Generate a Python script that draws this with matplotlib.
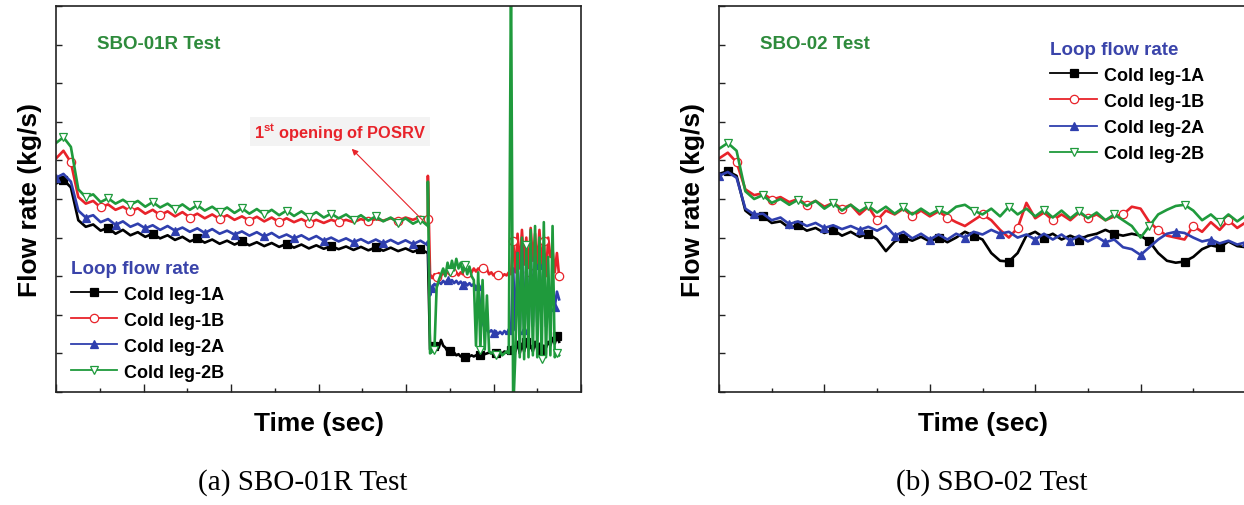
import numpy as np
import matplotlib
matplotlib.use("Agg")
import matplotlib.pyplot as plt
from matplotlib.lines import Line2D
from matplotlib.ticker import MultipleLocator

plt.rcParams['font.family'] = ['Liberation Sans', 'DejaVu Sans']
plt.rcParams['mathtext.fontset'] = 'custom'
plt.rcParams['mathtext.rm'] = 'Liberation Sans'
plt.rcParams['mathtext.bf'] = 'Liberation Sans:bold'

# colours
C_1A = '#000000'
C_1B = '#e8232a'
C_2A = '#2f3fae'
C_2B = '#1f9a3c'
C_TITLE = '#2e8b3c'
C_LEG = '#3a44aa'

series_names = ["Cold leg-1A", "Cold leg-1B", "Cold leg-2A", "Cold leg-2B"]

# ---- (a) SBO-01R : before POSRV opening (t = 0 .. 8.5)
t_a1 = np.linspace(0, 8.5, 51)
a1_1A = [5.4, 5.5, 5.3, 4.45, 4.28, 4.34, 4.18, 4.26, 4.1, 4.2, 4.06,
         4.14, 4.02, 4.1, 3.98, 4.06, 3.94, 4.02, 3.9, 3.98, 3.87,
         3.95, 3.84, 3.92, 3.82, 3.9, 3.8, 3.88, 3.78, 3.86, 3.76,
         3.84, 3.74, 3.82, 3.72, 3.8, 3.71, 3.78, 3.7, 3.77, 3.68,
         3.76, 3.67, 3.75, 3.66, 3.74, 3.65, 3.72, 3.63, 3.7, 3.6]
a1_1B = [6.05, 6.25, 5.95, 5.05, 4.88, 4.95, 4.78, 4.86, 4.72, 4.8, 4.68,
         4.76, 4.62, 4.72, 4.58, 4.68, 4.55, 4.66, 4.52, 4.62, 4.5,
         4.6, 4.48, 4.58, 4.46, 4.55, 4.44, 4.54, 4.42, 4.52, 4.4,
         4.5, 4.4, 4.48, 4.38, 4.46, 4.38, 4.46, 4.4, 4.46, 4.4,
         4.48, 4.42, 4.48, 4.44, 4.5, 4.44, 4.52, 4.46, 4.54, 4.48]
a1_2A = [5.55, 5.65, 5.45, 4.7, 4.52, 4.58, 4.4, 4.48, 4.33, 4.42, 4.28,
         4.36, 4.24, 4.32, 4.2, 4.3, 4.18, 4.26, 4.15, 4.24, 4.12,
         4.22, 4.1, 4.18, 4.08, 4.16, 4.05, 4.14, 4.03, 4.12, 4.0,
         4.08, 3.98, 4.06, 3.95, 4.04, 3.92, 4.0, 3.9, 3.98, 3.88,
         3.96, 3.86, 3.95, 3.85, 3.94, 3.84, 3.93, 3.83, 3.92, 3.8]
a1_2B = [6.45, 6.6, 6.35, 5.25, 5.05, 5.12, 4.92, 5.02, 4.88, 4.98, 4.85,
         4.95, 4.8, 4.92, 4.78, 4.88, 4.74, 4.86, 4.72, 4.84, 4.7,
         4.8, 4.66, 4.78, 4.64, 4.76, 4.62, 4.74, 4.6, 4.72, 4.58,
         4.7, 4.56, 4.68, 4.54, 4.66, 4.52, 4.62, 4.5, 4.6, 4.46,
         4.58, 4.44, 4.55, 4.42, 4.52, 4.38, 4.5, 4.36, 4.46, 4.3]

# ---- (a) SBO-01R : after POSRV opening (t = 8.5 .. 11.5)
t_a2 = np.linspace(8.5, 11.5, 61)
a2_1A = [3.6, 1.1, 1.15, 1.2, 1.1, 1.15, 1.35, 1.2, 1.15, 1.05, 1.05,
         1.0, 1.02, 0.95, 0.98, 0.92, 0.95, 0.9, 0.95, 0.92, 0.95,
         0.92, 0.95, 0.98, 0.95, 1.0, 0.98, 1.0, 1.02, 1.0, 1.02,
         1.0, 1.05, 1.02, 1.0, 1.05, 1.02, 1.05, 1.1, 1.2, 1.05,
         1.3, 1.0, 1.25, 1.05, 1.3, 1.1, 1.2, 1.05, 1.3, 1.1,
         1.25, 1.1, 1.2, 1.15, 1.3, 1.2, 1.4, 1.25, 1.45, 1.3]
a2_1B = [5.6, 3.05, 2.95, 3.05, 2.98, 3.08, 3.0, 3.1, 3.02, 3.12, 3.05,
         3.12, 3.04, 3.1, 3.02, 3.1, 3.05, 3.15, 3.08, 3.18, 3.1,
         3.2, 3.12, 3.2, 3.15, 3.22, 3.12, 3.18, 3.05, 3.1, 3.02,
         3.08, 3.02, 3.05, 3.0, 3.05, 3.02, 3.1, 3.05, 3.9, 3.1,
         4.1, 3.2, 4.2, 3.3, 4.0, 3.1, 4.25, 3.4, 4.1, 3.2,
         4.2, 3.3, 3.9, 3.0, 4.0, 3.5, 3.7, 3.1, 3.6, 3.0]
a2_2A = [3.9, 2.5, 2.7, 2.8, 2.75, 2.85, 2.8, 2.88, 2.82, 2.9, 2.85,
         2.9, 2.82, 2.88, 2.8, 2.86, 2.78, 2.84, 2.76, 2.82, 2.75,
         2.8, 2.7, 2.75, 2.2, 1.8, 1.65, 1.6, 1.55, 1.6, 1.52,
         1.58, 1.5, 1.56, 1.5, 1.58, 1.52, 1.6, 1.55, 3.2, 1.6,
         3.6, 1.5, 3.8, 1.6, 3.4, 1.5, 3.7, 1.7, 3.5, 1.8,
         3.3, 2.0, 3.6, 1.7, 2.6, 2.3, 2.8, 2.2, 2.6, 2.4]
a2_2B = [5.45, 1.0, 1.05, 1.1, 2.7, 2.9, 3.05, 3.2, 3.0, 3.35, 3.1,
         3.4, 3.15, 3.45, 3.2, 3.35, 3.1, 3.3, 3.05, 3.25, 3.0,
         2.9, 1.2, 3.1, 1.1, 2.9, 1.1, 2.5, 1.05, 1.0, 1.05,
         0.95, 1.0, 1.05, 0.95, 1.0, 1.05, 1.0, 11.0, -0.5, 1.0,
         3.6, 0.9, 4.0, 0.85, 3.8, 0.9, 4.2, 0.95, 4.3, 0.9,
         4.0, 0.85, 4.4, 0.9, 3.5, 0.95, 4.3, 0.9, 1.0, 0.95]

# ---- (b) SBO-02 (t = 0 .. 10)
t_b = np.linspace(0, 10, 61)
b_1A = [5.65, 5.72, 5.6, 4.7, 4.52, 4.56, 4.38, 4.42, 4.25, 4.32, 4.18,
        4.25, 4.12, 4.2, 4.05, 4.15, 4.02, 4.1, 3.95, 3.65, 3.9,
        4.0, 3.92, 4.02, 3.9, 4.0, 3.88, 4.0, 4.15, 4.05, 3.95,
        3.6, 3.4, 3.38, 3.6, 4.05, 4.15, 4.0, 4.1, 3.95, 4.05,
        3.95, 4.05, 4.1, 4.2, 4.1, 4.05, 4.1, 4.05, 3.9, 3.6,
        3.4, 3.35, 3.38, 3.5, 3.7, 3.8, 3.75, 3.9, 3.78, 3.75]
b_1B = [6.05, 6.2, 5.95, 5.25, 5.1, 5.15, 4.98, 5.05, 4.92, 5.0, 4.85,
        4.95, 4.8, 4.9, 4.75, 4.85, 4.6, 4.8, 4.45, 4.7, 4.6,
        4.75, 4.55, 4.7, 4.55, 4.68, 4.52, 4.4, 4.3, 4.45, 4.6,
        4.45, 4.2, 4.0, 4.25, 4.9, 4.5, 4.65, 4.45, 4.6, 4.45,
        4.65, 4.5, 4.6, 4.45, 4.55, 4.6, 4.8, 4.75, 4.4, 4.2,
        4.05, 4.0, 3.95, 4.3, 4.15, 4.4, 4.2, 4.45, 4.25, 4.4]
b_2A = [5.6, 5.7, 5.55, 4.75, 4.6, 4.62, 4.45, 4.52, 4.35, 4.42, 4.3,
        4.38, 4.25, 4.32, 4.22, 4.3, 4.2, 4.28, 4.18, 4.3, 4.05,
        4.15, 3.98, 4.1, 3.95, 4.08, 3.95, 4.1, 4.0, 4.15, 4.08,
        4.2, 4.1, 4.15, 4.0, 4.08, 3.95, 4.1, 3.95, 4.08, 3.92,
        4.05, 3.9, 4.02, 3.88, 3.95, 3.75, 3.7, 3.55, 3.75, 3.95,
        4.1, 4.15, 4.12, 4.0, 3.9, 3.95, 3.85, 3.92, 3.82, 3.88]
b_2B = [6.3, 6.45, 6.25, 5.2, 5.0, 5.1, 4.9, 5.0, 4.85, 4.98, 4.82,
        4.95, 4.75, 4.9, 4.7, 4.85, 4.68, 4.82, 4.65, 4.8, 4.62,
        4.78, 4.6, 4.75, 4.6, 4.72, 4.62, 4.8, 4.85, 4.7, 4.6,
        4.75, 4.55, 4.8, 4.6, 4.75, 4.55, 4.72, 4.52, 4.7, 4.5,
        4.68, 4.5, 4.65, 4.45, 4.6, 4.45, 4.3, 4.0, 4.3, 4.6,
        4.72, 4.82, 4.85, 4.7, 4.45, 4.6, 4.4, 4.6, 4.42, 4.58]

styles = {
    "Cold leg-1A": dict(color=C_1A, marker='s', mfc=C_1A, off=1, step=6),
    "Cold leg-1B": dict(color=C_1B, marker='o', mfc='white', off=2, step=4),
    "Cold leg-2A": dict(color=C_2A, marker='^', mfc=C_2A, off=0, step=4),
    "Cold leg-2B": dict(color=C_2B, marker='v', mfc='white', off=1, step=3),
}

fig = plt.figure(figsize=(12.44, 5.06), dpi=100)
ax1 = fig.add_axes([56 / 1244, 113 / 506, 525 / 1244, 386 / 506])
ax2 = fig.add_axes([719 / 1244, 113 / 506, 527 / 1244, 386 / 506])

t_a = np.concatenate([t_a1, t_a2])
data_a = {
    "Cold leg-1A": a1_1A + a2_1A,
    "Cold leg-1B": a1_1B + a2_1B,
    "Cold leg-2A": a1_2A + a2_2A,
    "Cold leg-2B": a1_2B + a2_2B,
}
data_b = {"Cold leg-1A": b_1A, "Cold leg-1B": b_1B,
          "Cold leg-2A": b_2A, "Cold leg-2B": b_2B}

n1 = len(t_a1)
for name in series_names:
    st = styles[name]
    marks = list(range(st['off'], n1, st['step'])) + list(range(n1 + st['off'] + 2, len(t_a), 7))
    ax1.plot(t_a, data_a[name], color=st['color'], lw=1.9, marker=st['marker'],
             markersize=6, mfc=st['mfc'], mec=st['color'], mew=0.9,
             markevery=marks)
    ax2.plot(t_b, data_b[name], color=st['color'], lw=1.9, marker=st['marker'],
             markersize=6, mfc=st['mfc'], mec=st['color'], mew=0.9,
             markevery=(st['off'], 4))

for ax, xmax in ((ax1, 12), (ax2, 10)):
    ax.set_xlim(0, xmax)
    ax.set_ylim(0, 10)
    ax.xaxis.set_major_locator(MultipleLocator(2))
    ax.xaxis.set_minor_locator(MultipleLocator(1))
    ax.yaxis.set_major_locator(MultipleLocator(1))
    ax.tick_params(which='both', direction='in', labelbottom=False, labelleft=False,
                   width=1.0, color='#222222')
    ax.tick_params(axis='x', which='major', length=6)
    ax.tick_params(axis='x', which='minor', length=3)
    ax.tick_params(axis='y', which='major', length=4)
    for sp in ax.spines.values():
        sp.set_linewidth(1.2)
        sp.set_color('#222222')
    ax.set_xlabel("Time (sec)", fontsize=19, fontweight='bold', labelpad=14)
    ax.set_ylabel("Flow rate (kg/s)", fontsize=19, fontweight='bold', labelpad=10)

ax1.text(0.078, 0.9016, "SBO-01R Test", transform=ax1.transAxes, color=C_TITLE,
         fontsize=13.5, fontweight='bold', va='center', ha='left')
ax2.text(0.078, 0.9016, "SBO-02 Test", transform=ax2.transAxes, color=C_TITLE,
         fontsize=13.5, fontweight='bold', va='center', ha='left')

# POSRV annotation
ax1.text(4.53, 6.74, r"1$^{\mathbf{st}}$ opening of POSRV", color=C_1B, fontsize=11.8,
         fontweight='bold', va='center', ha='left',
         bbox=dict(facecolor='#f3f3f3', edgecolor='none', pad=3))
ax1.annotate("", xy=(6.76, 6.3), xytext=(8.38, 4.45),
             arrowprops=dict(arrowstyle='-|>', color=C_1B, lw=0.8,
                             mutation_scale=9, shrinkA=0, shrinkB=0))

handles = []
for name in series_names:
    st = styles[name]
    handles.append(Line2D([], [], color=st['color'], lw=1.3, marker=st['marker'],
                          markersize=6, mfc=st['mfc'], mec=st['color'], mew=0.9))

for ax, anchor in ((ax1, (0.0286, 0.343)), (ax2, (0.629, 0.91))):
    leg = ax.legend(handles, series_names, title="Loop flow rate", loc='upper left',
                    bbox_to_anchor=anchor, frameon=False, borderpad=0, borderaxespad=0,
                    fontsize=13, handlelength=2.55, handletextpad=0.4,
                    labelspacing=0.5, numpoints=1, alignment='left',
                    title_fontproperties={'weight': 'bold', 'size': 13.5})
    leg.get_title().set_color(C_LEG)
    for txt in leg.get_texts():
        txt.set_fontweight('bold')

fig.text(303 / 1244, 1 - 483 / 506, "(a) SBO-01R Test", fontsize=21,
         family=['Liberation Serif'], ha='center', va='center')
fig.text(992 / 1244, 1 - 483 / 506, "(b) SBO-02 Test", fontsize=21,
         family=['Liberation Serif'], ha='center', va='center')

fig.savefig("out.png", dpi=100)
